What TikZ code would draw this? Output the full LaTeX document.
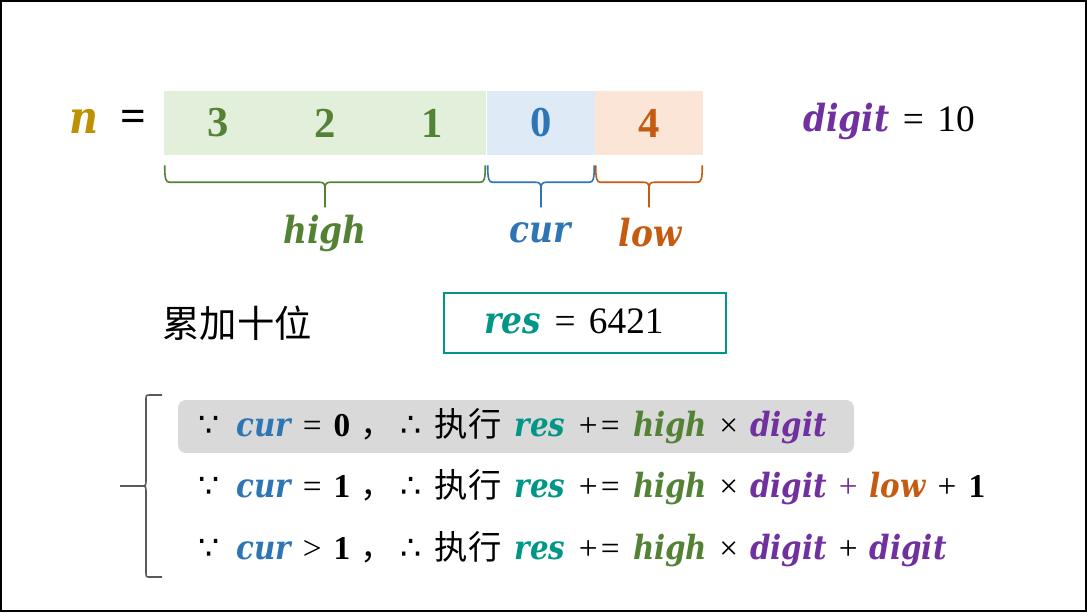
\documentclass[tikz,border=0pt]{standalone}
\usepackage{fontspec}
\setmainfont{Liberation Serif}
\newfontfamily\cjk{Noto Sans CJK SC}
\newfontfamily\symf{DejaVu Sans}
\newfontfamily\varf{DejaVu Serif}[FakeStretch=0.88]
\usetikzlibrary{calc}

\definecolor{ngold}{HTML}{BF9000}
\definecolor{highgreen}{HTML}{548235}
\definecolor{curblue}{HTML}{2E75B6}
\definecolor{loworange}{HTML}{C55A11}
\definecolor{digitpurple}{HTML}{7030A0}
\definecolor{resteal}{HTML}{009688}
\definecolor{highfill}{HTML}{E2EFDA}
\definecolor{curfill}{HTML}{DEEBF7}
\definecolor{lowfill}{HTML}{FBE5D6}
\definecolor{markgrey}{HTML}{D9D9D9}
\definecolor{bracegrey}{HTML}{595959}

\newlength{\du}
\setlength{\du}{0.75pt}

\newcommand{\vn}{\textcolor{ngold}{\varf\bfseries\itshape n}}
\newcommand{\vhigh}{\textcolor{highgreen}{\varf\bfseries\itshape high}}
\newcommand{\vcur}{\textcolor{curblue}{\varf\bfseries\itshape cur}}
\newcommand{\vlow}{\textcolor{loworange}{\varf\bfseries\itshape low}}
\newcommand{\vres}{\textcolor{resteal}{\varf\bfseries\itshape res}}
\newcommand{\vdigit}{\textcolor{digitpurple}{\varf\bfseries\itshape digit}}
\newcommand{\since}{{\symf ∵}}
\newcommand{\hence}{{\symf ∴}}
\newcommand{\op}[1]{\hspace{0.36em}#1\hspace{0.36em}}
\newcommand{\addto}{\hspace{0.4em}+\kern0.1em=\hspace{0.4em}}

% brace under a part of the number: start, end, colour
\newcommand{\partbrace}[3]{%
  \coordinate (m) at ($(#1)!0.5!(#2)$);
  \draw[#3, line width=1.2pt]
    (#1) .. controls ($(#1)+(0,14)$) and ($(#1)+(1,17)$) .. ($(#1)+(5,17)$)
    -- ($(m)+(-5,17)$) .. controls ($(m)+(-1,17)$) and ($(m)+(0,19)$) .. ($(m)+(0,24)$)
    -- ($(m)+(0,42)$);
  \draw[#3, line width=1.2pt]
    ($(m)+(0,24)$) .. controls ($(m)+(0,19)$) and ($(m)+(1,17)$) .. ($(m)+(5,17)$)
    -- ($(#2)+(-5,17)$) .. controls ($(#2)+(-1,17)$) and ($(#2)+(0,14)$) .. (#2);
}

\tikzset{
  cell/.style={inner sep=0pt, minimum width=108\du, minimum height=64\du,
    font=\fontsize{32}{36}\selectfont\bfseries},
  label/.style={font=\fontsize{28}{34}\selectfont},
  row/.style={anchor=west, inner sep=0pt, font=\fontsize{25}{30}\selectfont},
}

\begin{document}
\begin{tikzpicture}[x=\du,y=-\du]
\useasboundingbox (0,0) rectangle (1087,612);
\draw[line width=2\du] (1,1) rectangle (1086,611);

% number split into parts
\node[font=\fontsize{34}{40}\selectfont] (n) at (84,121) {\vn};
\node[font=\fontsize{34}{40}\selectfont\bfseries] (eq) at (133,121) {=};
\node[cell, fill=highfill, text=highgreen] (c3) at (218,123) {3};
\node[cell, fill=highfill, text=highgreen] (c2) at (325,123) {2};
\node[cell, fill=highfill, text=highgreen] (c1) at (432,123) {1};
\node[cell, fill=curfill, text=curblue] (c0) at (541,123) {0};
\node[cell, fill=lowfill, text=loworange] (c4) at (649,123) {4};

\coordinate (hs) at ([shift={(1,10)}]c3.south west);
\coordinate (he) at ([shift={(-1,10)}]c1.south east);
\coordinate (cs) at ([shift={(1,10)}]c0.south west);
\coordinate (ce) at ([shift={(-1,10)}]c0.south east);
\coordinate (ls) at ([shift={(1,10)}]c4.south west);
\coordinate (le) at ([shift={(-1,10)}]c4.south east);
\partbrace{hs}{he}{highgreen}
\partbrace{cs}{ce}{curblue}
\partbrace{ls}{le}{loworange}

\node[label] (high) at (325,233) {\vhigh};
\node[label] (cur) at (540,233) {\vcur};
\node[label] (low) at (650,233) {\vlow};

\node[label] (digit) at (889,121) {\vdigit\op{=}10};

% accumulated value
\node[font=\fontsize{28}{32}\selectfont\cjk] (step) at (237,323) {累加十位};
\node[draw=resteal, line width=1.5pt, minimum width=282\du, minimum height=60\du] (resbox) at (585,323) {};
\node[label] (res) at (574,321) {\vres\op{=}6421};

% three cases
\node[fill=markgrey, rounded corners=8\du, minimum width=676\du, minimum height=53\du] (mark) at (516,426.5) {};
\coordinate (btop) at (162,395);
\coordinate (bbot) at (162,577);
\draw[bracegrey, line width=1.2pt] (btop) -- (150,395) .. controls (146,395) .. (146,400)
  -- (146,480) .. controls (146,486) .. (140,486) -- (120,486);
\draw[bracegrey, line width=1.2pt] (bbot) -- (150,577) .. controls (146,577) .. (146,572)
  -- (146,492) .. controls (146,486) .. (140,486);

\node[row] (case0) at (198,426) {\since\hspace{0.5em}\vcur\op{=}\textbf{0}\hspace{0.3em}{\cjk ，}\hspace{0.2em}\hence\hspace{0.4em}{\cjk 执行}\hspace{0.4em}\vres\addto\vhigh\op{×}\vdigit};
\node[row] (case1) at (198,487) {\since\hspace{0.5em}\vcur\op{=}\textbf{1}\hspace{0.3em}{\cjk ，}\hspace{0.2em}\hence\hspace{0.4em}{\cjk 执行}\hspace{0.4em}\vres\addto\vhigh\op{×}\vdigit\op{\textcolor{digitpurple}{+}}\vlow\op{+}\textbf{1}};
\node[row] (case2) at (198,549) {\since\hspace{0.5em}\vcur\op{>}\textbf{1}\hspace{0.3em}{\cjk ，}\hspace{0.2em}\hence\hspace{0.4em}{\cjk 执行}\hspace{0.4em}\vres\addto\vhigh\op{×}\vdigit\op{+}\vdigit};
\end{tikzpicture}
\end{document}
